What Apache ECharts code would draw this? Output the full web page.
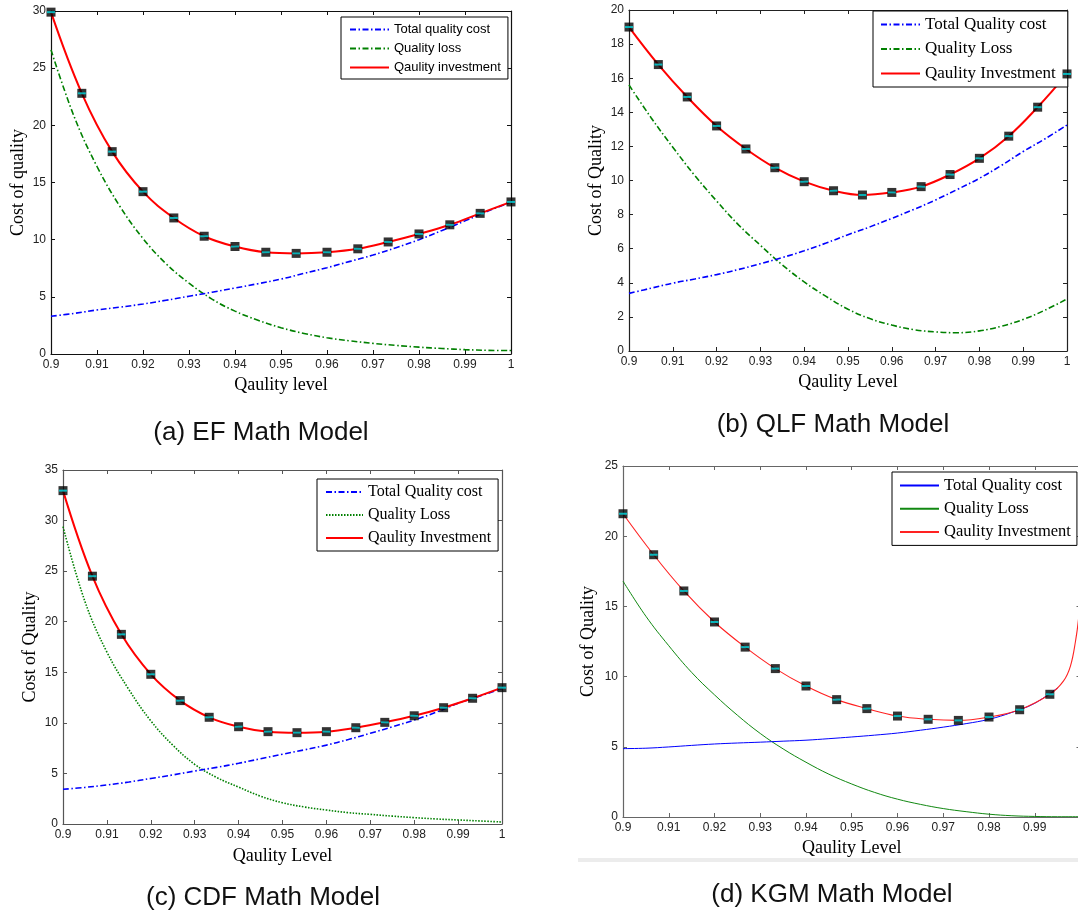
<!DOCTYPE html>
<html>
<head>
<meta charset="utf-8">
<title>Cost of quality models</title>
<script src="https://cdn.jsdelivr.net/npm/echarts/dist/echarts.min.js"></script>
<style>
  html, body { margin: 0; padding: 0; background: #fff; }
  #chart { width: 1078px; height: 912px; }
</style>
</head>
<body>
<div id="chart"></div>
<script>
// quality level samples
const qualityLevel = [0.9, 0.905, 0.91, 0.915, 0.92, 0.925, 0.93, 0.935, 0.94, 0.945, 0.95,
  0.955, 0.96, 0.965, 0.97, 0.975, 0.98, 0.985, 0.99, 0.995, 1.0];
// positions of the square markers on the investment curve
const markerLevel = [0.9, 0.9067, 0.9133, 0.92, 0.9267, 0.9333, 0.94, 0.9467, 0.9533, 0.96,
  0.9667, 0.9733, 0.98, 0.9867, 0.9933, 1.0];

// (a) EF
const efTotal = [3.3, 3.55, 3.85, 4.1, 4.37, 4.7, 5.05, 5.4, 5.77, 6.15, 6.55, 7.05, 7.55, 8.1, 8.65, 9.3, 10.0, 10.8, 11.65, 12.5, 13.3];
const efLoss = [26.6, 20.8, 16.4, 12.9, 10.1, 7.9, 6.2, 4.8, 3.75, 2.95, 2.3, 1.8, 1.42, 1.15, 0.93, 0.75, 0.6, 0.48, 0.38, 0.32, 0.3];
const efInvest = [29.9, 22.8, 17.7, 14.2, 11.9, 10.3, 9.4, 8.9, 8.8, 8.9, 9.2, 9.8, 10.5, 11.3, 12.3, 13.3];

// (b) QLF
const qlfTotal = [3.38, 3.68, 3.98, 4.22, 4.48, 4.78, 5.12, 5.48, 5.88, 6.33, 6.82, 7.28, 7.78, 8.3, 8.86, 9.48, 10.13, 10.88, 11.7, 12.45, 13.25];
const qlfLoss = [15.6, 13.7, 11.95, 10.3, 8.8, 7.4, 6.2, 5.05, 4.05, 3.2, 2.45, 1.9, 1.52, 1.25, 1.12, 1.07, 1.18, 1.45, 1.85, 2.4, 3.05];
const qlfInvest = [19.0, 16.8, 14.9, 13.2, 11.85, 10.75, 9.93, 9.4, 9.15, 9.3, 9.64, 10.35, 11.3, 12.6, 14.3, 16.25];

// (c) CDF
const cdfTotal = [3.43, 3.62, 3.86, 4.15, 4.5, 4.85, 5.24, 5.6, 6.0, 6.45, 6.9, 7.33, 7.8, 8.35, 8.97, 9.6, 10.28, 11.05, 11.93, 12.65, 13.4];
const cdfLoss = [29.4, 22.0, 17.0, 13.3, 10.2, 7.8, 5.9, 4.6, 3.65, 2.75, 2.1, 1.68, 1.38, 1.12, 0.95, 0.78, 0.63, 0.5, 0.4, 0.3, 0.2];
const cdfInvest = [32.96, 24.5, 18.75, 14.8, 12.2, 10.55, 9.62, 9.13, 9.03, 9.13, 9.52, 10.05, 10.7, 11.5, 12.43, 13.48];

// (d) KGM - investment shoots up just before 1.0
const kgmInvestLevel = [0.9, 0.9067, 0.9133, 0.92, 0.9267, 0.9333, 0.94, 0.9467, 0.9533, 0.96,
  0.9667, 0.9733, 0.98, 0.9867, 0.9933, 0.9963, 0.9978, 0.9989, 0.9996, 1.0];
const kgmInvest = [21.6, 18.68, 16.1, 13.89, 12.1, 10.57, 9.33, 8.36, 7.72, 7.19, 6.96, 6.88, 7.12, 7.64, 8.74, 9.7, 10.75, 12.5, 14.2, 16.0];
const kgmTotalLevel = [0.9, 0.905, 0.91, 0.915, 0.92, 0.925, 0.93, 0.935, 0.94, 0.945, 0.95,
  0.955, 0.96, 0.965, 0.97, 0.975, 0.98, 0.985, 0.99, 0.995];
const kgmTotal = [4.87, 4.9, 4.99, 5.1, 5.2, 5.27, 5.33, 5.4, 5.47, 5.58, 5.7, 5.83, 5.98, 6.18, 6.4, 6.65, 6.96, 7.45, 8.1, 9.2];
const kgmLoss = [16.8, 14.3, 12.2, 10.3, 8.7, 7.25, 5.95, 4.85, 3.9, 3.05, 2.35, 1.75, 1.27, 0.9, 0.6, 0.38, 0.2, 0.09, 0.04, 0.02, 0.02];

const zip = (xs, ys) => ys.map((y, i) => [xs[i], y]);

const dashDot = [6, 2.5, 1.5, 2.5];
const sans = 'Liberation Sans';
const serif = 'Liberation Serif';

const panels = [
  {
    key: 'a', caption: '(a) EF Math Model', capX: 261, capY: 420,
    grid: { left: 51, top: 11, width: 460, height: 343 },
    yMax: 30, yStep: 5, axisColor: '#111',
    xName: 'Qaulity level', yName: 'Cost of quality', xGap: 22, yGap: 24,
    names: ['Total quality cost', 'Quality loss', 'Qaulity investment'],
    legend: { left: 341, top: 17, padding: [6, 7, 5, 8], itemWidth: 39, itemHeight: 13, itemGap: 6,
      textStyle: { fontFamily: sans, fontSize: 13, color: '#000' } },
    total: zip(qualityLevel, efTotal), loss: zip(qualityLevel, efLoss),
    invest: zip(markerLevel, efInvest), marks: zip(markerLevel, efInvest),
    styles: [
      { color: '#0000ff', width: 1.6, type: dashDot },
      { color: '#008000', width: 1.6, type: dashDot },
      { color: '#ff0000', width: 2, type: 'solid' }
    ]
  },
  {
    key: 'b', caption: '(b) QLF Math Model', capX: 833, capY: 412,
    grid: { left: 629, top: 10, width: 438, height: 341 },
    yMax: 20, yStep: 2, axisColor: '#222',
    xName: 'Qaulity Level', yName: 'Cost of Quality', xGap: 22, yGap: 24,
    names: ['Total Quality cost', 'Quality Loss', 'Qaulity Investment'],
    legend: { left: 873, top: 11, padding: [5, 12, 5, 7], itemWidth: 39, itemHeight: 17, itemGap: 7.5,
      textStyle: { fontFamily: serif, fontSize: 17, color: '#000' } },
    total: zip(qualityLevel, qlfTotal), loss: zip(qualityLevel, qlfLoss),
    invest: zip(markerLevel, qlfInvest), marks: zip(markerLevel, qlfInvest),
    styles: [
      { color: '#0000ff', width: 1.6, type: dashDot },
      { color: '#008000', width: 1.6, type: dashDot },
      { color: '#ff0000', width: 2, type: 'solid' }
    ]
  },
  {
    key: 'c', caption: '(c) CDF Math Model', capX: 263, capY: 885,
    grid: { left: 63, top: 470, width: 439, height: 354 },
    yMax: 35, yStep: 5, axisColor: '#555',
    xName: 'Qaulity Level', yName: 'Cost of Quality', xGap: 23, yGap: 24,
    names: ['Total Quality cost', 'Quality Loss', 'Qaulity Investment'],
    legend: { left: 317, top: 479, padding: [5, 7, 5, 8], itemWidth: 37, itemHeight: 16, itemGap: 7,
      textStyle: { fontFamily: serif, fontSize: 16, color: '#000' } },
    total: zip(qualityLevel, cdfTotal), loss: zip(qualityLevel, cdfLoss),
    invest: zip(markerLevel, cdfInvest), marks: zip(markerLevel, cdfInvest),
    styles: [
      { color: '#0000ff', width: 1.6, type: dashDot },
      { color: '#008000', width: 1.6, type: [1.5, 1.5] },
      { color: '#ff0000', width: 2, type: 'solid' }
    ]
  },
  {
    key: 'd', caption: '(d) KGM Math Model', capX: 832, capY: 882,
    grid: { left: 623, top: 466, width: 457.5, height: 351 },
    yMax: 25, yStep: 5, axisColor: '#666', hideLast: true,
    xName: 'Qaulity Level', yName: 'Cost of Quality', xGap: 22, yGap: 26,
    names: ['Total Quality cost', 'Quality Loss', 'Qaulity Investment'],
    legend: { left: 892, top: 472, padding: [5, 6, 5, 7], itemWidth: 39, itemHeight: 16.5, itemGap: 6.2,
      textStyle: { fontFamily: serif, fontSize: 16.5, color: '#000' } },
    total: zip(kgmTotalLevel, kgmTotal), loss: zip(qualityLevel, kgmLoss),
    invest: zip(kgmInvestLevel, kgmInvest), marks: zip(kgmInvestLevel.slice(0, 15), kgmInvest.slice(0, 15)),
    styles: [
      { color: '#0000ff', width: 1, type: 'solid' },
      { color: '#118811', width: 1, type: 'solid' },
      { color: '#ff2222', width: 1.1, type: 'solid' }
    ]
  }
];

const option = {
  animation: false,
  backgroundColor: '#fff',
  title: [], legend: [], grid: [], xAxis: [], yAxis: [], series: [],
  graphic: [{
    type: 'rect', shape: { x: 578, y: 858, width: 500, height: 4 },
    style: { fill: '#ececec' }, silent: true
  }]
};

panels.forEach((p, i) => {
  const ax = p.axisColor;
  option.title.push({
    text: p.caption, left: p.capX, top: p.capY, textAlign: 'center', padding: 0,
    textStyle: { fontFamily: sans, fontSize: 26, fontWeight: 'normal', color: '#111' }
  });
  option.grid.push(Object.assign({ show: false, outerBoundsMode: 'none', containLabel: false }, p.grid));

  const tick = { show: true, inside: true, length: 4, lineStyle: { color: ax, width: 1 } };
  const line = { show: true, onZero: false, lineStyle: { color: ax, width: 1.2 } };
  const label = { fontFamily: sans, fontSize: 12, color: '#222', margin: 5 };
  const nameStyle = { fontFamily: serif, fontSize: 18, color: '#000' };

  option.xAxis.push({
    gridIndex: i, type: 'value', position: 'bottom', min: 0.9, max: 1, interval: 0.01,
    name: p.xName, nameLocation: 'middle', nameGap: p.xGap, nameTextStyle: nameStyle,
    axisLine: line, axisTick: tick, splitLine: { show: false },
    axisLabel: Object.assign({ formatter: v => String(+v.toFixed(2)), showMaxLabel: !p.hideLast }, label)
  });
  option.xAxis.push({
    gridIndex: i, type: 'value', position: 'top', min: 0.9, max: 1, interval: 0.01,
    axisLine: line, axisTick: tick, axisLabel: { show: false }, splitLine: { show: false }
  });
  option.yAxis.push({
    gridIndex: i, type: 'value', position: 'left', min: 0, max: p.yMax, interval: p.yStep,
    name: p.yName, nameLocation: 'middle', nameGap: p.yGap, nameTextStyle: nameStyle,
    axisLine: line, axisTick: tick, splitLine: { show: false }, axisLabel: label
  });
  option.yAxis.push({
    gridIndex: i, type: 'value', position: 'right', min: 0, max: p.yMax, interval: p.yStep,
    axisLine: line, axisTick: tick, axisLabel: { show: false }, splitLine: { show: false }
  });

  const ids = p.names.map(n => p.key + '|' + n);
  option.legend.push(Object.assign({
    orient: 'vertical', data: ids, formatter: n => n.split('|')[1],
    backgroundColor: '#fff', borderColor: '#000', borderWidth: 1, borderRadius: 0,
    selectedMode: false, align: 'left', itemStyle: { opacity: 0 }
  }, p.legend));

  const lines = [p.total, p.loss, p.invest];
  const order = [1, 0, 2];
  order.forEach((k, n) => {
    option.series.push({
      name: ids[k], type: 'line', xAxisIndex: 2 * i, yAxisIndex: 2 * i,
      data: lines[k], symbol: 'none', smooth: 0.4,
      lineStyle: p.styles[k], itemStyle: { color: p.styles[k].color }, z: 2, zlevel: 0, silent: true
    });
  });
  option.series.push({
    type: 'scatter', xAxisIndex: 2 * i, yAxisIndex: 2 * i, data: p.marks,
    symbol: 'rect', symbolSize: 9, itemStyle: { color: '#000' }, z: 5, silent: true
  });
  option.series.push({
    type: 'scatter', xAxisIndex: 2 * i, yAxisIndex: 2 * i, data: p.marks,
    symbol: 'rect', symbolSize: [8, 2], itemStyle: { color: '#00d8e0' }, z: 6, silent: true
  });
});

const chart = echarts.init(document.getElementById('chart'), null, { renderer: 'canvas' });
chart.setOption(option);
window.addEventListener('resize', () => chart.resize());
</script>
</body>
</html>
